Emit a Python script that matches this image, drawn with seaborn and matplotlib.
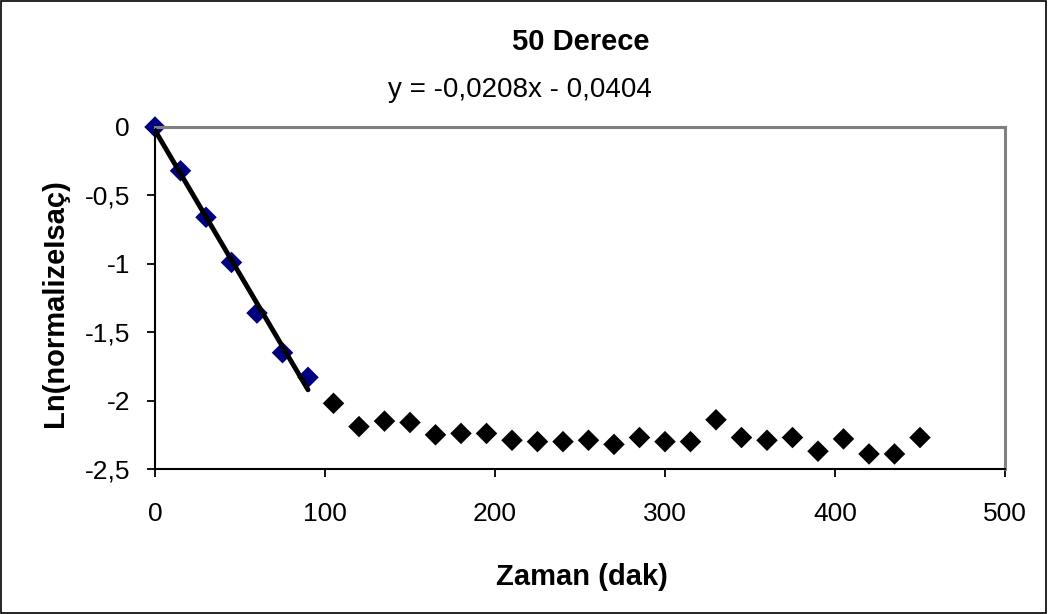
import numpy as np
import pandas as pd
import matplotlib
matplotlib.use("Agg")
import matplotlib.pyplot as plt
import seaborn as sns
from matplotlib.patches import Rectangle
from matplotlib.ticker import FuncFormatter

# ---- data ----
zaman_fit = [0, 15, 30, 45, 60, 75, 90]
ln_fit = [0.0, -0.32, -0.66, -0.99, -1.36, -1.65, -1.83]

zaman_rest = [105, 120, 135, 150, 165, 180, 195, 210, 225, 240, 255, 270, 285,
              300, 315, 330, 345, 360, 375, 390, 405, 420, 435, 450]
ln_rest = [-2.02, -2.19, -2.15, -2.16, -2.25, -2.24, -2.24, -2.29, -2.30, -2.30,
           -2.29, -2.32, -2.27, -2.30, -2.30, -2.14, -2.27, -2.29, -2.27, -2.37,
           -2.28, -2.39, -2.39, -2.27]

title = "50 Derece"
equation = "y = -0,0208x - 0,0404"
x_label = "Zaman (dak)"
y_label = "Ln(normalizeIsaç)"
x_ticks = [0, 100, 200, 300, 400, 500]
y_ticks = [0, -0.5, -1, -1.5, -2, -2.5]

sns.set_theme(style="white")
plt.rcParams['font.family'] = ['Liberation Sans', 'DejaVu Sans']
plt.rcParams['text.color'] = 'black'

fig = plt.figure(figsize=(10.48, 6.14), dpi=100)
fig.patch.set_facecolor("white")
ax = fig.add_axes([155/1048, 1-469/614, 850/1048, 342/614])

df_fit = pd.DataFrame({"x": zaman_fit, "y": ln_fit})
df_rest = pd.DataFrame({"x": zaman_rest, "y": ln_rest})

sns.regplot(data=df_fit, x="x", y="y", ax=ax, scatter=False, ci=None,
            truncate=True, line_kws=dict(color="black", lw=3.5, zorder=3))
sns.scatterplot(data=df_fit, x="x", y="y", ax=ax, marker="D", s=120,
                color="#000080", edgecolor="none", zorder=2, clip_on=False)
sns.scatterplot(data=df_rest, x="x", y="y", ax=ax, marker="D", s=120,
                color="black", edgecolor="none", zorder=2, clip_on=False)

ax.set_xlim(0, 500)
ax.set_ylim(-2.5, 0)
ax.set_xticks(x_ticks)
ax.set_yticks(y_ticks)
ax.yaxis.set_major_formatter(FuncFormatter(lambda v, p: ("%g" % v).replace(".", ",")))
ax.tick_params(axis="both", labelsize=19, direction="out", length=6, width=1.3,
               colors="black", labelcolor="black", left=True, bottom=True)
ax.tick_params(axis="x", pad=18)
ax.tick_params(axis="y", pad=12)
ax.set_xlabel("")
ax.set_ylabel("")

for s in ["left", "bottom"]:
    ax.spines[s].set_color("black")
    ax.spines[s].set_linewidth(1.5)
for s in ["top", "right"]:
    ax.spines[s].set_color("#808080")
    ax.spines[s].set_linewidth(2.2)
ax.grid(False)

fig.text(581/1048, 1-42/614, title, ha="center", va="center", fontsize=21,
         fontweight="bold", color="black")
fig.text(520/1048, 1-90/614, equation, ha="center", va="center", fontsize=20,
         color="black")
fig.text(582/1048, 1-577/614, x_label, ha="center", va="center", fontsize=21,
         fontweight="bold", color="black")
fig.text(55/1048, 1-303/614, y_label, ha="center", va="center", rotation=90,
         fontsize=21, fontweight="bold", color="black")

fig.patches.append(Rectangle((0.001, 0.002), 0.997, 0.996, transform=fig.transFigure,
                             fill=False, edgecolor="black", lw=1.2))

fig.savefig("out.png", dpi=100, facecolor="white")
